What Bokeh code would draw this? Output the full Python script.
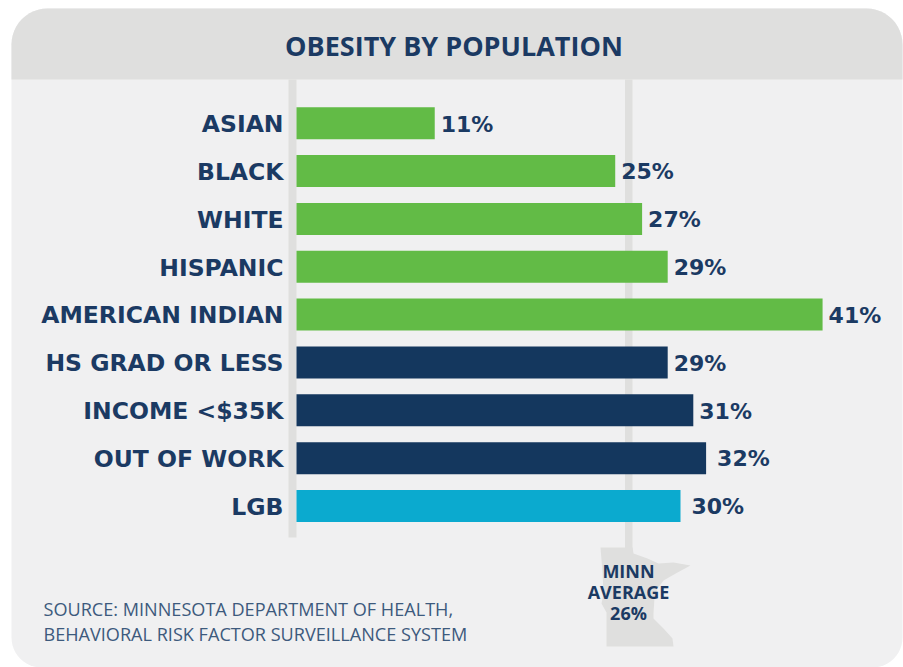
import math
from bokeh.plotting import figure
from bokeh.models import ColumnDataSource, Range1d
from bokeh.core.properties import value
from bokeh.embed import file_html
from bokeh.resources import INLINE

categories = ["ASIAN", "BLACK", "WHITE", "HISPANIC", "AMERICAN INDIAN",
              "HS GRAD OR LESS", "INCOME <$35K", "OUT OF WORK", "LGB"]
bar_values = [10.8, 24.9, 27.0, 29.0, 41.1, 29.0, 31.0, 32.0, 30.0]
value_labels = ["11%", "25%", "27%", "29%", "41%", "29%", "31%", "32%", "30%"]
groups = ["race", "race", "race", "race", "race", "social", "social", "social", "lgb"]
group_colors = {"race": "#62bb46", "social": "#14375e", "lgb": "#0baacf"}
minn_average = 26
title = "OBESITY BY POPULATION"
source_lines = ["SOURCE: MINNESOTA DEPARTMENT OF HEALTH,",
                "BEHAVIORAL RISK FACTOR SURVEILLANCE SYSTEM"]
avg_lines = ["MINN", "AVERAGE", f"{minn_average}%"]

W, H = 903, 667
X0, XS = 296, 12.8      # page px of 0 %, px per %
Y0, YS = 122.7, 47.85   # page px of first row, px per row
NAVY = "#1b3a63"
HEAD = "#dfdfde"
BODY = "#f0f0f1"
FONT = "Open Sans"
WIDE = "DejaVu Sans"


def dx(px):
    return (px - X0) / XS


def dy(px):
    return (px - Y0) / YS


def rounded(l, t, r, b, rt, rb):
    pts = []
    for cx, cy, rad, a0 in [(r - rt, t + rt, rt, -90), (r - rb, b - rb, rb, 0),
                            (l + rb, b - rb, rb, 90), (l + rt, t + rt, rt, 180)]:
        for k in range(13):
            a = math.radians(a0 + 7.5 * k)
            pts.append((cx + rad * math.cos(a), cy + rad * math.sin(a)))
    return [dx(a) for a, _ in pts], [dy(b) for _, b in pts]


p = figure(width=W, height=H, output_backend="svg", toolbar_location=None,
           x_range=Range1d(dx(0), dx(W)), y_range=Range1d(dy(H), dy(0)),
           min_border=0, background_fill_color="white", border_fill_color="white",
           outline_line_color=None)
p.axis.visible = False
p.grid.visible = False

# panel
xs, ys = rounded(11, 8, 902, 667, 36, 30)
p.patch(xs, ys, fill_color=BODY, line_color=None)
hx = []
hy = []
for cx, a0 in [(11 + 36, 180), (902 - 36, 270)]:
    for k in range(13):
        a = math.radians(a0 + 7.5 * k)
        hx.append(dx(cx + 36 * math.cos(a)))
        hy.append(dy(44 + 36 * math.sin(a)))
hx += [dx(902), dx(11)]
hy += [dy(79), dy(79)]
p.patch(hx, hy, fill_color=HEAD, line_color=None)

# guide lines
p.quad(left=[dx(288), dx(624.5)], right=[dx(296), dx(632)],
       top=[dy(79), dy(79)], bottom=[dy(537), dy(550)],
       fill_color=HEAD, line_color=None)

# state outline
state = [(600, 547), (632, 547), (633, 553), (647, 558), (658, 563), (673, 562),
         (690, 565), (677, 572), (663, 580), (657, 588), (654, 597), (653, 613),
         (653, 618), (663, 628), (672, 638), (673, 646), (606, 646), (606, 612),
         (601, 603), (603, 593), (602, 572)]
p.patch([dx(a) for a, _ in state], [dy(b) for _, b in state],
        fill_color=HEAD, line_color=None)

rows = list(range(len(categories)))
gaps = [6, 6, 6, 6, 6, 6, 6, 11, 11]
src = ColumnDataSource(dict(row=rows, cat=categories, val=bar_values, lab=value_labels,
                            color=[group_colors[g] for g in groups],
                            text_y=[r + 0.8 / YS for r in rows],
                            lab_x=[v + g / XS for v, g in zip(bar_values, gaps)]))
p.hbar(y="row", left=0, right="val", height=32 / YS, fill_color="color", line_color=None, source=src)

p.text(x=dx(283), y="text_y", text="cat", source=src, text_align="right", text_baseline="middle",
       text_font=value(WIDE), text_font_style="bold", text_font_size="23.5px", text_color=NAVY)
p.text(x="lab_x", y="text_y", text="lab", source=src, text_align="left", text_baseline="middle",
       text_font=value(WIDE), text_font_style="bold", text_font_size="22px", text_color=NAVY)

p.text(x=[dx(453.5)], y=[dy(44.5)], text=[title], text_align="center", text_baseline="middle",
       text_font=value(FONT), text_font_style="bold", text_font_size="27px", text_color=NAVY)
p.text(x=[dx(628)] * 3, y=[dy(570), dy(591), dy(612)], text=avg_lines,
       text_align="center", text_baseline="middle",
       text_font=value(FONT), text_font_style="bold", text_font_size="18px", text_color=NAVY)
p.text(x=[dx(43)] * 2, y=[dy(608.5), dy(633.5)], text=source_lines,
       text_align="left", text_baseline="middle",
       text_font=value(FONT), text_font_size="18.1px", text_color="#3d5a7d")

open("out.html", "w").write(file_html(p, INLINE))
